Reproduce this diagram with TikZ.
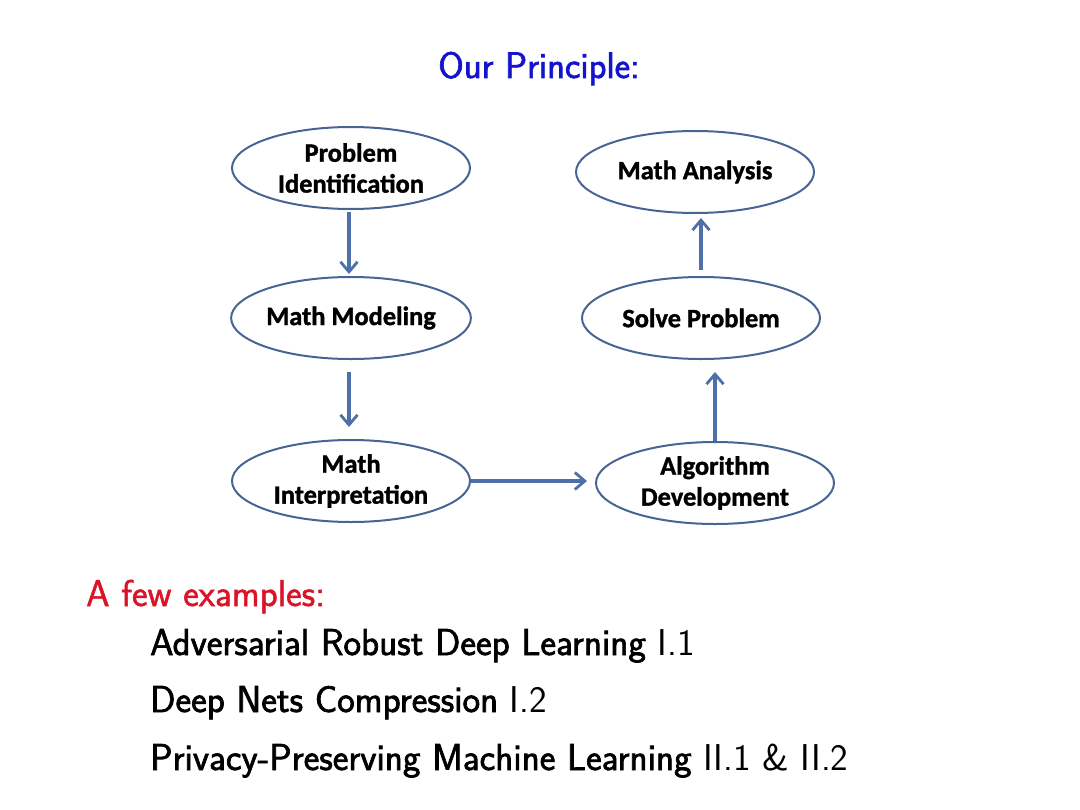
\documentclass[tikz,border=0pt]{standalone}
\usepackage{fontspec}
\newfontfamily\diagfont{Carlito}
\usetikzlibrary{shapes.geometric,arrows.meta}
\definecolor{edgeblue}{RGB}{72,100,148}
\definecolor{arrowblue}{RGB}{78,112,168}
\definecolor{titleblue}{RGB}{20,20,205}
\definecolor{alertred}{RGB}{218,20,40}
\newcommand{\heavytext}[2]{\special{pdf:literal direct 2 Tr #1 w}#2\special{pdf:literal direct 0 Tr}}
\tikzset{
  proc/.style={ellipse, draw=edgeblue, line width=2bp, fill=white, inner sep=0pt,
    minimum width=238bp, minimum height=82bp, align=center,
    font=\diagfont\bfseries\fontsize{26.5}{31}\selectfont},
  flow/.style={draw=arrowblue, line width=3.3bp, -{Straight Barb[length=10bp,width=17bp,line width=2.8bp]}},
  slidetext/.style={anchor=base west, inner sep=0pt, font=\sffamily\fontsize{37.5}{42}\selectfont}
}
\begin{document}
\begin{tikzpicture}[x=1bp,y=-1bp]
\useasboundingbox (0,0) rectangle (1080,810);
\fill[white] (0,0) rectangle (1080,810);

\node[anchor=base, inner sep=0pt, text=titleblue, font=\sffamily\fontsize{37}{42}\selectfont] (title) at (539,78) {\heavytext{0.7}{Our Principle:}};

\node[proc] (pi) at (351,168) {\heavytext{0.35}{Problem}\\\heavytext{0.35}{Identification}};
\node[proc] (mm) at (351,318) {\heavytext{0.35}{Math Modeling}};
\node[proc] (mi) at (351,481) {\heavytext{0.35}{Math}\\\heavytext{0.35}{Interpretation}};
\node[proc] (ma) at (695,172) {\heavytext{0.35}{Math Analysis}};
\node[proc] (sp) at (701,318) {\heavytext{0.35}{Solve Problem}};
\node[proc] (ad) at (715,483) {\heavytext{0.35}{Algorithm}\\\heavytext{0.35}{Development}};

\draw[flow, shorten <=2bp, shorten >=2bp] ([xshift=-2bp]pi.south) -- ([xshift=-2bp]pi.south |- mm.north);
\draw[flow, shorten <=12bp, shorten >=12bp] ([xshift=-2bp]mm.south) -- ([xshift=-2bp]mm.south |- mi.north);
\draw[flow, shorten >=8bp] (mi.east) -- (mi.east -| ad.west);
\draw[flow, shorten >=12bp] (ad.north) -- (ad.north |- sp.south);
\draw[flow, shorten <=6bp, shorten >=4bp] (sp.north) -- (sp.north |- ma.south);

\node[slidetext, text=alertred] (ex) at (86,606) {\heavytext{0.5}{A few examples:}};
\node[slidetext] (e1) at (150,655) {\heavytext{0.7}{Adversarial Robust Deep Learning} I.1};
\node[slidetext] (e2) at (150,712) {\heavytext{0.7}{Deep Nets Compression} I.2};
\node[slidetext] (e3) at (150,770) {\heavytext{0.7}{Privacy-Preserving Machine Learning} II.1 \& II.2};
\end{tikzpicture}
\end{document}
